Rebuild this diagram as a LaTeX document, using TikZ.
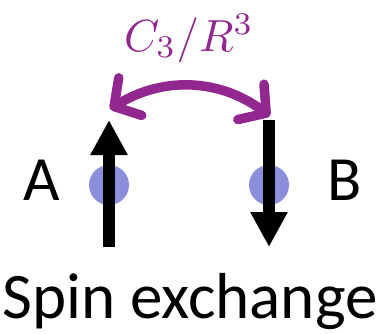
\documentclass[tikz,border=0pt]{standalone}
\usepackage{graphicx}
\usepackage{fontspec}
\setmainfont{Carlito}
\usetikzlibrary{arrows.meta}
\definecolor{arcpurple}{HTML}{92278F}
\definecolor{spinblue}{HTML}{8A8EDB}
\begin{document}
\begin{tikzpicture}[x=1pt,y=-1pt,
  spinarrow/.style={line width=12pt,-{Triangle[width=35pt,length=35pt]}},
  atom/.style={circle,fill=spinblue,minimum size=40pt,inner sep=0pt},
  biglabel/.style={font=\fontsize{63}{63}\selectfont,inner sep=0pt,anchor=base}]
\useasboundingbox (0,0) rectangle (380,333);
\node[atom] (atomA) at (109,185) {};
\node[atom] (atomB) at (269,185) {};
\coordinate (Abot) at (109,247);
\coordinate (Atop) at (109,120);
\coordinate (Btop) at (269,120);
\coordinate (Bbot) at (269,247);
\draw[spinarrow] (Abot) -- (Atop);
\draw[spinarrow] (Btop) -- (Bbot);
\node[biglabel] (labA) at (42,200) {A};
\node[biglabel] (labB) at (345,200) {B};
\node[biglabel,font=\fontsize{65}{65}\selectfont] (title) at (190,318) {Spin exchange};
\node[inner sep=0pt,anchor=base,text=arcpurple] (coup) at (189,51) {\scalebox{4.5}{$C_3/R^3$}};
\coordinate (arcL) at (110,109);
\coordinate (arcR) at (270,116);
\draw[arcpurple,line width=9.5pt,line cap=round,
  {Straight Barb[length=19pt,width=44pt,round]}-{Straight Barb[length=19pt,width=44pt,round]}]
  (arcL) to[bend left=34] (arcR);
\end{tikzpicture}
\end{document}
